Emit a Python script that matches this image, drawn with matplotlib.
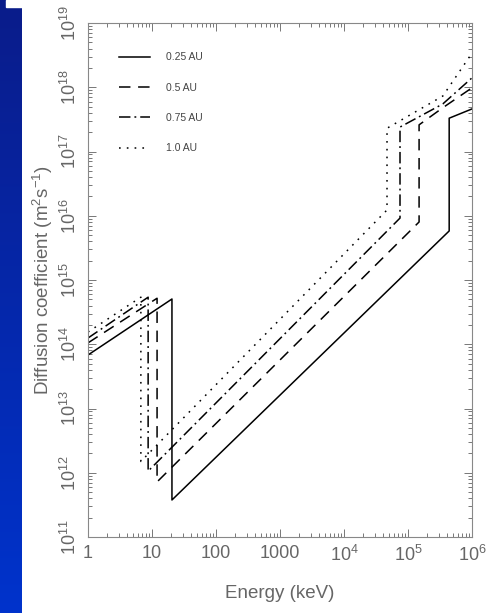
import matplotlib
matplotlib.use("Agg")
import matplotlib.pyplot as plt
from matplotlib.patches import Rectangle
import numpy as np

plt.rcParams['font.family'] = ['Liberation Sans', 'DejaVu Sans']
plt.rcParams['mathtext.default'] = 'regular'

# curves: energy (keV) and diffusion coefficient (m^2 s^-1)
labels = ['0.25 AU', '0.5 AU', '0.75 AU', '1.0 AU']

e_025 = [1, 20.5, 20.5, 4.4e5, 4.4e5, 1e6]
d_025 = [6.8e13, 5.06e14, 3.77e11, 5.8e15, 3.3e17, 4.6e17]

e_05 = [1, 12.0, 12.0, 1.49e5, 1.49e5, 3.5e5, 1e6]
d_05 = [1.05e14, 5.2e14, 7.2e11, 8.0e15, 2.6e17, 4.8e17, 9.8e17]

e_075 = [1, 8.7, 8.7, 7.5e4, 7.5e4, 3.5e5, 1e6]
d_075 = [1.25e14, 5.4e14, 1.06e12, 9.2e15, 2.4e17, 5.5e17, 1.4e18]

e_10 = [1, 6.7, 6.7, 4.7e4, 4.7e4, 3.5e5, 1e6]
d_10 = [1.55e14, 5.4e14, 1.5e12, 1.23e16, 2.3e17, 7.3e17, 3.4e18]

xticks = [1, 10, 100, 1000, 1e4, 1e5, 1e6]
xticklabels = ['1', '10', '100', '1000', '10$^4$', '10$^5$', '10$^6$']
yticks = [10.0**k for k in range(11, 20)]
yticklabels = ['10$^{%d}$' % k for k in range(11, 20)]

W, H = 491, 613
fig = plt.figure(figsize=(W / 100, H / 100), dpi=100)

# blue strip on the left side
strip = fig.add_axes([0, 0, 22 / W, 1])
grad = np.linspace(0, 1, 256).reshape(-1, 1)
top = np.array([0x0a, 0x1c, 0x8a]) / 255
bot = np.array([0x00, 0x33, 0xcc]) / 255
img = top[None, None, :] * (1 - grad[:, :, None]) + bot[None, None, :] * grad[:, :, None]
strip.imshow(img, aspect='auto', extent=[0, 22, H, 0])
strip.add_patch(Rectangle((6, 0), 16, 7, color='white'))
strip.set_xlim(0, 22)
strip.set_ylim(H, 0)
strip.axis('off')

ax = fig.add_axes([88 / W, 1 - 537 / H, 384 / W, 514 / H])
ax.set_xscale('log')
ax.set_yscale('log')

lw = 1.1
ax.plot(e_025, d_025, color='black', lw=lw, label=labels[0])
l2, = ax.plot(e_05, d_05, color='black', lw=lw, label=labels[1])
l2.set_dashes((7.5, 5))
l3, = ax.plot(e_075, d_075, color='black', lw=lw, label=labels[2])
l3.set_dashes((7.5, 2.6, 1.2, 2.6))
l4, = ax.plot(e_10, d_10, color='black', lw=lw, label=labels[3])
l4.set_dashes((1.1, 4.0))

ax.set_xlim(1, 1e6)
ax.set_ylim(1e11, 1e19)
ax.set_xticks(xticks)
ax.set_xticklabels(xticklabels)
ax.set_yticks(yticks)
ax.set_yticklabels(yticklabels)
for t in ax.get_yticklabels():
    t.set_rotation(90)
    t.set_va('center')

grey = '#666666'
for s in ax.spines.values():
    s.set_color('#888888')
    s.set_linewidth(0.8)
ax.tick_params(which='both', direction='in', top=True, right=True,
               color='#777777', labelcolor=grey, labelsize=13, width=0.7)
ax.tick_params(which='major', length=6, pad=6)
ax.tick_params(which='minor', length=3.2)

ax.set_xlabel('Energy (keV)', fontsize=13.5, color=grey, labelpad=14)
ax.set_ylabel('Diffusion coefficient (m$^2$s$^{-1}$)', fontsize=13.5,
              color=grey, labelpad=3)

leg = ax.legend(loc='upper left', bbox_to_anchor=(0.08, 0.943), frameon=False,
                fontsize=7.5, handlelength=3.0, handletextpad=1.5,
                labelspacing=1.95, borderpad=0, borderaxespad=0)
for t in leg.get_texts():
    t.set_color('#444444')

fig.savefig('out.png', dpi=100)
